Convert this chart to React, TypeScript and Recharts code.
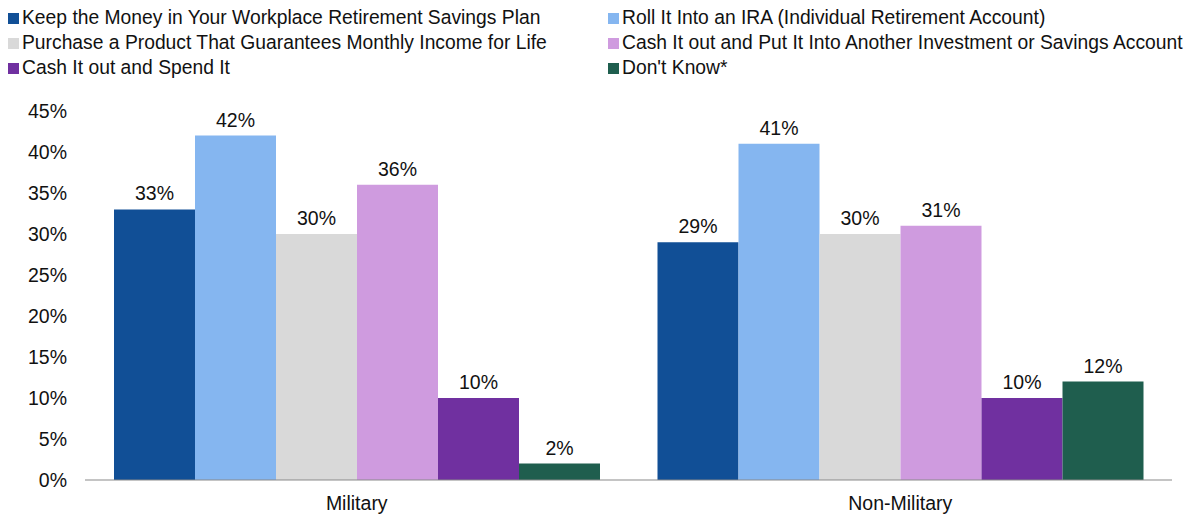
import { BarChart, Bar, XAxis, YAxis, LabelList } from 'recharts';

const groups = ['Military', 'Non-Military'];

const seriesNames = [
  'Keep the Money in Your Workplace Retirement Savings Plan',
  'Roll It Into an IRA (Individual Retirement Account)',
  'Purchase a Product That Guarantees Monthly Income for Life',
  'Cash It out and Put It Into Another Investment or Savings Account',
  'Cash It out and Spend It',
  "Don't Know*",
];

const keepInPlan = [33, 29];
const rollToIra = [42, 41];
const buyIncomeProduct = [30, 30];
const cashOutInvest = [36, 31];
const cashOutSpend = [10, 10];
const dontKnow = [2, 12];

const yTicks = [0, 5, 10, 15, 20, 25, 30, 35, 40, 45];

const colors = ['#114F96', '#85B6F0', '#D9D9D9', '#CF9BDF', '#7030A0', '#1F5E4E'];
const keys = ['s0', 's1', 's2', 's3', 's4', 's5'];

const seriesValues = [keepInPlan, rollToIra, buyIncomeProduct, cashOutInvest, cashOutSpend, dontKnow];

const data = groups.map((g, i) => {
  const row: Record<string, string | number> = { group: g };
  seriesValues.forEach((vals, k) => {
    row[keys[k]] = vals[i];
  });
  return row;
});

const font = '"Liberation Sans", Arial, sans-serif';

export default function App() {
  return (
    <div style={{ position: 'relative', width: 1192, height: 514, fontFamily: font, background: '#fff' }}>
      <style>{`body{margin:0}`}</style>
      {/* legend: two columns, three rows */}
      <div style={{ position: 'absolute', left: 0, top: 0, width: 1192 }}>
        {seriesNames.map((name, idx) => {
          const col = idx % 2;
          const row = Math.floor(idx / 2);
          return (
            <div
              key={idx}
              style={{
                position: 'absolute',
                left: col === 0 ? 8 : 608,
                top: 7 + row * 25,
                display: 'flex',
                alignItems: 'center',
                fontSize: 19.3,
                color: '#111',
                whiteSpace: 'nowrap',
                lineHeight: '22px',
              }}
            >
              <span style={{ width: 11, height: 11, background: colors[idx], marginRight: 3, display: 'inline-block' }} />
              {name}
            </div>
          );
        })}
      </div>
      <BarChart
        width={1192}
        height={514}
        data={data}
        margin={{ top: 111, right: 20, left: 0, bottom: 4 }}
        barCategoryGap={29}
        barGap={0}
      >
        <XAxis
          dataKey="group"
          tickLine={false}
          tickSize={0}
          tickMargin={16}
          stroke="#898989"
          tick={{ fill: '#111', fontSize: 19.5, fontFamily: font }}
        />
        <YAxis
          width={85}
          domain={[0, 45]}
          ticks={yTicks}
          axisLine={false}
          tickLine={false}
          tickSize={0}
          tickMargin={18}
          tickFormatter={(v) => `${v}%`}
          tick={{ fill: '#111', fontSize: 19.5, fontFamily: font }}
        />
        {keys.map((k, i) => (
          <Bar key={k} dataKey={k} fill={colors[i]} isAnimationActive={false}>
            <LabelList
              dataKey={k}
              position="top"
              offset={9}
              formatter={(v: number) => `${v}%`}
              style={{ fill: '#111', fontSize: 19.5, fontFamily: font }}
            />
          </Bar>
        ))}
      </BarChart>
    </div>
  );
}
